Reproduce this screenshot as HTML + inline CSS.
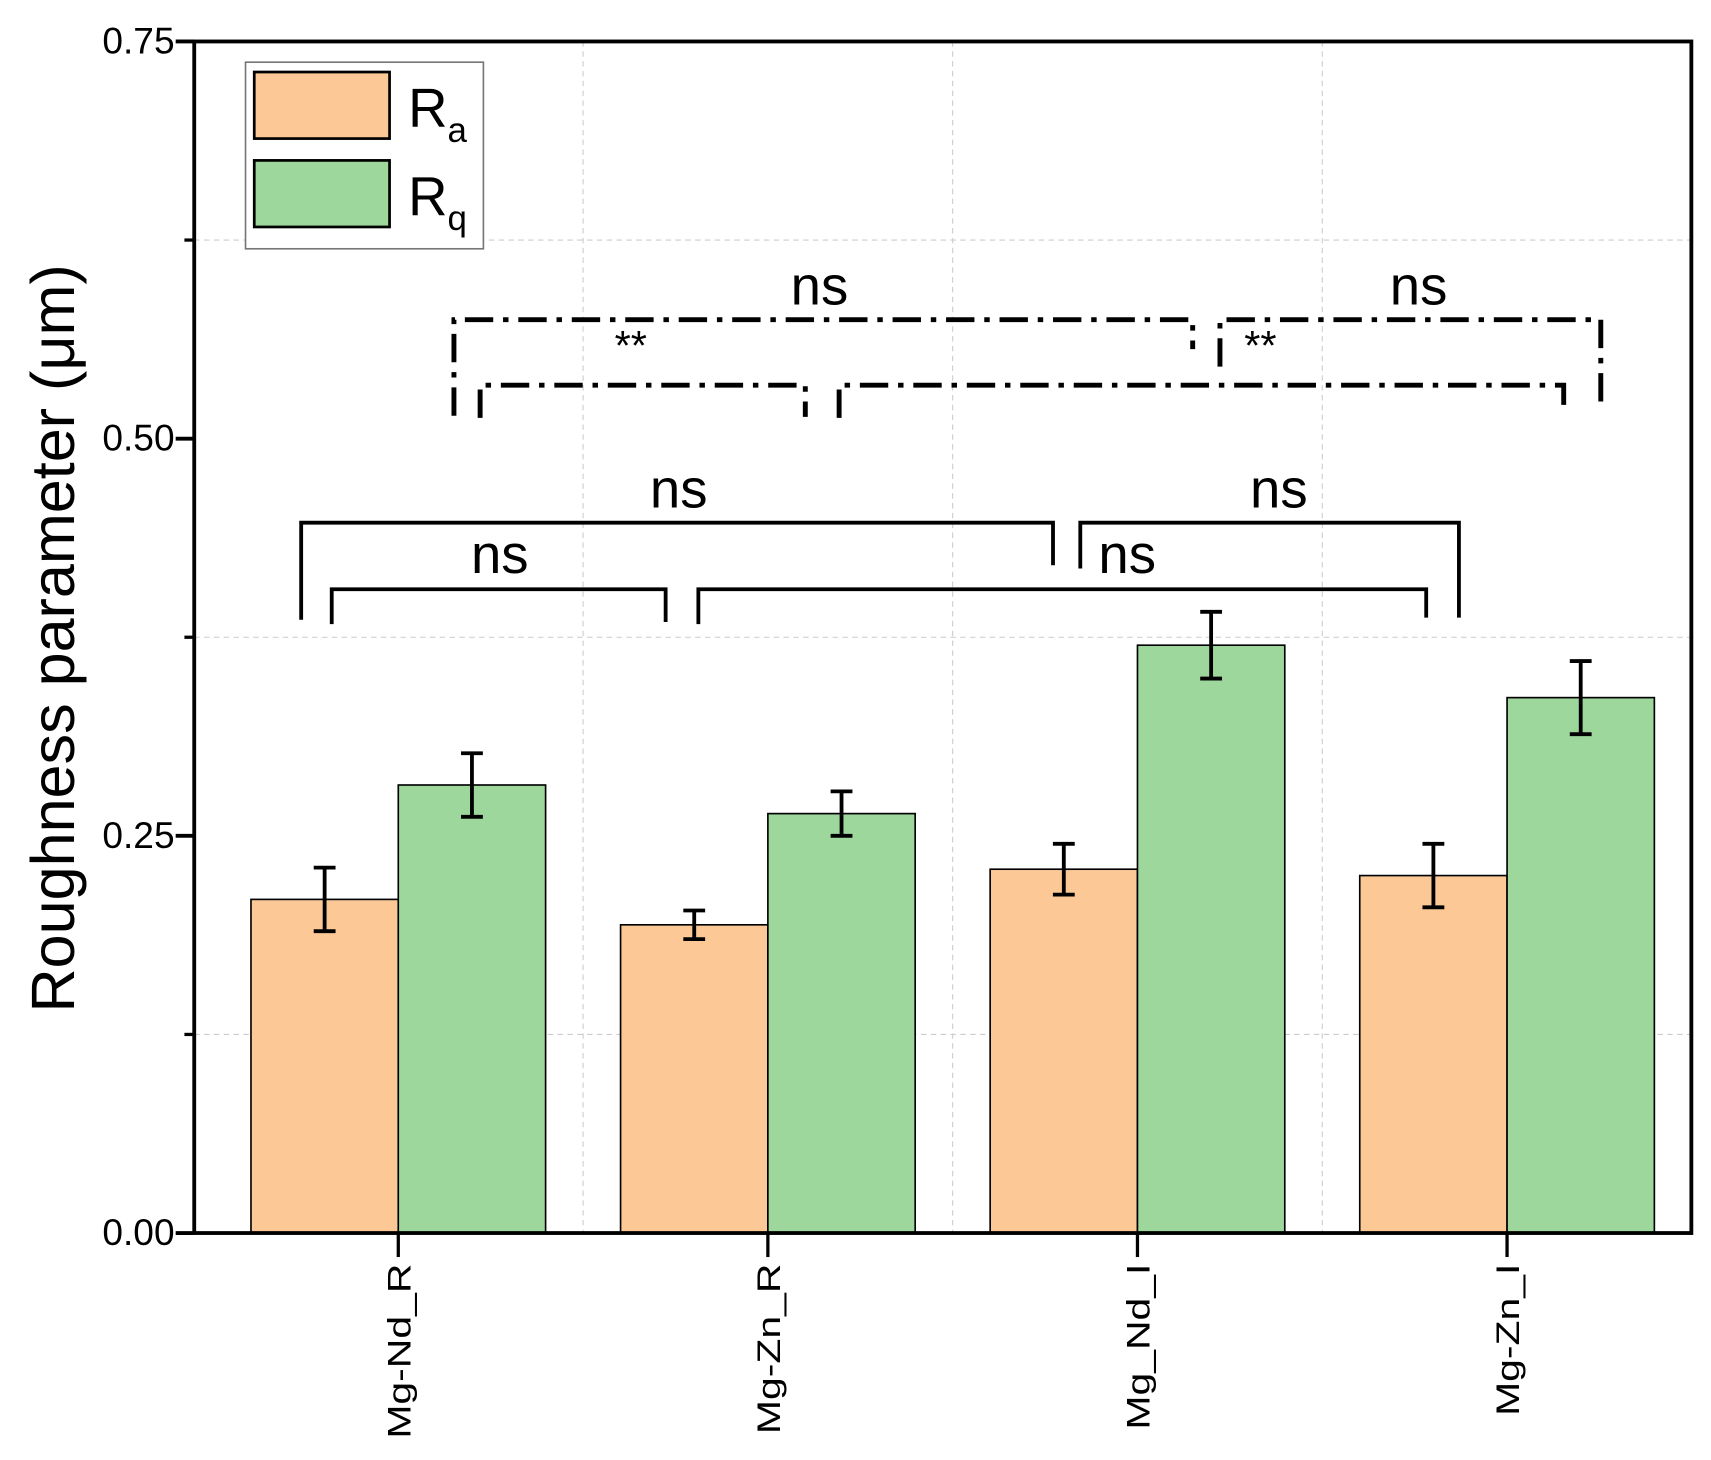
<!DOCTYPE html>
<html><head><meta charset="utf-8"><style>
html,body{margin:0;padding:0;background:#fff;}
svg{display:block;font-family:"Liberation Sans",Arial,sans-serif;}
</style></head><body>
<svg id="chart" width="1711" height="1460" viewBox="0 0 1568 1338" preserveAspectRatio="none" xmlns="http://www.w3.org/2000/svg">
<g id="grid"></g>
<g id="bars"></g>
<g id="brackets"></g>
<g id="axes"></g>
<g>
  <rect x="225" y="57" width="218" height="171" fill="#fff" stroke="#777" stroke-width="1.5"/>
  <rect x="233" y="66" width="124" height="61" fill="#fbc896" stroke="#000" stroke-width="2.5"/>
  <text x="374" y="116" font-size="50">R<tspan font-size="32" dy="14">a</tspan></text>
  <rect x="233" y="147" width="124" height="61" fill="#9dd79c" stroke="#000" stroke-width="2.5"/>
  <text x="374" y="197" font-size="50">R<tspan font-size="32" dy="14">q</tspan></text>
</g>
<text transform="translate(68,585) rotate(-90)" text-anchor="middle" font-size="56">Roughness parameter (μm)</text>
</svg>
<script>
const categories = ["Mg-Nd_R","Mg-Zn_R","Mg_Nd_I","Mg-Zn_I"];
const raValues = [0.210, 0.194, 0.229, 0.225];
const raErrors = [0.020, 0.009, 0.016, 0.020];
const rqValues = [0.282, 0.264, 0.370, 0.337];
const rqErrors = [0.020, 0.014, 0.021, 0.023];
const yTicks = [0, 0.25, 0.5, 0.75];
const yTickLabels = ["0.00","0.25","0.50","0.75"];

const NS = "http://www.w3.org/2000/svg";
const X0 = 178, X1 = 1550, Y0 = 1130, Y1 = 38, YMAX = 0.75;
const firstCenter = 365, step = 338.7, barW = 135;
function yScale(v){ return Y0 - (v / YMAX) * (Y0 - Y1); }
function xCenter(i){ return firstCenter + i * step; }
function mk(tag, attrs, parent){ const e = document.createElementNS(NS, tag); for (const k in attrs) e.setAttribute(k, attrs[k]); parent.appendChild(e); return e; }

const grid = document.getElementById('grid');
[0.125, 0.375, 0.625].forEach(v => {
  const l = mk('line', {x1:X0, x2:X1, y1:yScale(v), y2:yScale(v), stroke:'#ccc', 'stroke-width':1, 'stroke-dasharray':'5,4'}, grid);
  
  
});
for (let i = 0; i < categories.length - 1; i++) {
  const x = xCenter(i) + step / 2;
  const l = mk('line', {x1:x, x2:x, y1:Y1, y2:Y0, stroke:'#ccc', 'stroke-width':1, 'stroke-dasharray':'5,4'}, grid);
  
  
}

const bars = document.getElementById('bars');
function drawErr(x, v, e){
  const g = mk('g', {stroke:'#000', 'stroke-width':3.5}, bars);
  
  
  mk('line', {x1:x, x2:x, y1:yScale(v+e), y2:yScale(v-e)}, g);
  mk('line', {x1:x-10, x2:x+10, y1:yScale(v+e), y2:yScale(v+e)}, g);
  mk('line', {x1:x-10, x2:x+10, y1:yScale(v-e), y2:yScale(v-e)}, g);
}
categories.forEach((c, i) => {
  const cx = xCenter(i);
  const ra = mk('rect', {x:cx-barW, y:yScale(raValues[i]), width:barW, height:Y0-yScale(raValues[i]), fill:'#fbc896', stroke:'#000', 'stroke-width':1.5}, bars);
  
  
  const rq = mk('rect', {x:cx, y:yScale(rqValues[i]), width:barW, height:Y0-yScale(rqValues[i]), fill:'#9dd79c', stroke:'#000', 'stroke-width':1.5}, bars);
  
  
  drawErr(cx - barW/2, raValues[i], raErrors[i]);
  drawErr(cx + barW/2, rqValues[i], rqErrors[i]);
});

const br = document.getElementById('brackets');
function bracket(x1, x2, y, l1, l2, dashed){
  const p = mk('path', {d:`M${x1},${l1} L${x1},${y} L${x2},${y} L${x2},${l2}`, fill:'none', stroke:'#000', 'stroke-width': dashed ? 4.5 : 3.5}, br);
  if (dashed) p.setAttribute('stroke-dasharray', '26,9,5,9');
  
  
}
function label(x, y, t, fs){
  const e = mk('text', {x:x, y:y, 'text-anchor':'middle', 'font-size':fs}, br);
  e.textContent = t;
  
  
}
bracket(276, 965, 479, 568, 518, false);
bracket(304, 610, 540, 572, 570, false);
bracket(990, 1337, 479, 521, 566, false);
bracket(640, 1307, 540, 572, 566, false);
bracket(416, 1093, 293, 381, 320, true);
bracket(440, 738, 353, 383, 382, true);
bracket(769, 1433, 353, 383, 378, true);
bracket(1118, 1467, 293, 336, 370, true);
label(622, 465, 'ns', 50); label(458, 525, 'ns', 50);
label(1172, 465, 'ns', 50); label(1033, 525, 'ns', 50);
label(751, 279, 'ns', 50); label(1300, 279, 'ns', 50);
label(578, 330, '**', 38); label(1155, 330, '**', 38);

const ax = document.getElementById('axes');
const frame = mk('rect', {x:X0, y:Y1, width:X1-X0, height:Y0-Y1, fill:'none', stroke:'#000', 'stroke-width':3.5}, ax);


yTicks.forEach((v, i) => {
  const y = yScale(v);
  const t = mk('line', {x1:X0-17, x2:X0, y1:y, y2:y, stroke:'#000', 'stroke-width':3.5}, ax);
  
  
  const tx = mk('text', {x:X0-18, y:y+11, 'text-anchor':'end', 'font-size':34}, ax);
  tx.textContent = yTickLabels[i];
  
  
});
[0.125, 0.375, 0.625].forEach(v => {
  const t = mk('line', {x1:X0-9, x2:X0, y1:yScale(v), y2:yScale(v), stroke:'#000', 'stroke-width':3}, ax);
  
  
});
categories.forEach((c, i) => {
  const x = xCenter(i);
  const t = mk('line', {x1:x, x2:x, y1:Y0, y2:Y0+22, stroke:'#000', 'stroke-width':3}, ax);
  
  
  const tx = mk('text', {transform:`translate(${x+11},${Y0+28}) rotate(-90) scale(1.25,1)`, 'text-anchor':'end', 'font-size':30}, ax);
  tx.textContent = c;
  
  
});
</script>
</body></html>
